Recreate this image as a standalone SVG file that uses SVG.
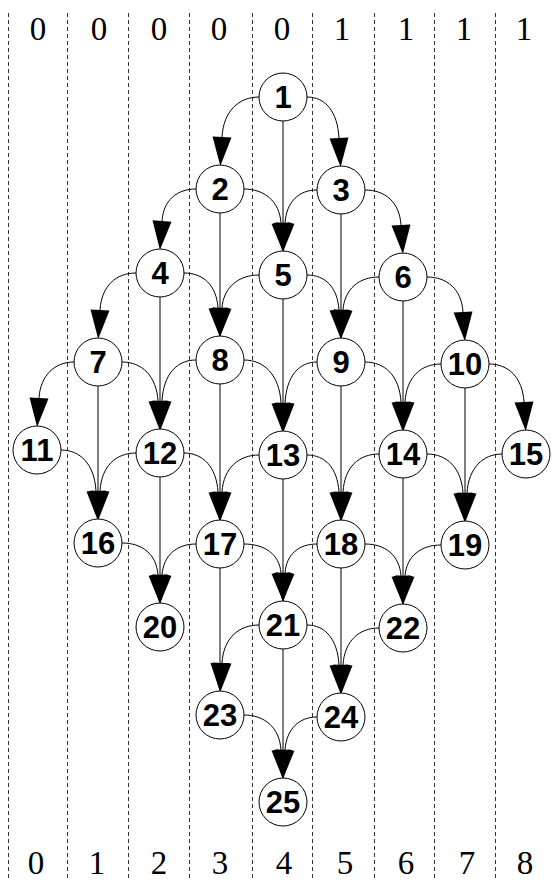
<svg xmlns="http://www.w3.org/2000/svg" width="553" height="881" viewBox="0 0 553 881">
<style>
.grid{stroke:#333;stroke-width:1;stroke-dasharray:4 3;fill:none}
.hdr{font-family:"Liberation Serif","Times New Roman",serif;font-size:33px;fill:#000;text-anchor:middle}
.e{fill:none;stroke:#000;stroke-width:1;marker-end:url(#ah)}
.n circle{fill:#fff;stroke:#000;stroke-width:1}
.n text{font-family:"Liberation Sans",Arial,sans-serif;font-weight:bold;font-size:31px;fill:#000;text-anchor:middle}
</style>
<defs>
<marker id="ah" markerUnits="userSpaceOnUse" markerWidth="30" markerHeight="20" viewBox="0 -10 30 20" refX="0" refY="0" orient="auto" overflow="visible">
<path d="M0,-9.5 L29,0 L0,9.5 Z" fill="#000"/>
</marker>
</defs>
<rect width="553" height="881" fill="#fff"/>
<g id="grid">
<line class="grid" x1="8.5" y1="13" x2="8.5" y2="881"/>
<line class="grid" x1="67.5" y1="13" x2="67.5" y2="881"/>
<line class="grid" x1="128.5" y1="13" x2="128.5" y2="881"/>
<line class="grid" x1="189.5" y1="13" x2="189.5" y2="881"/>
<line class="grid" x1="252.5" y1="13" x2="252.5" y2="881"/>
<line class="grid" x1="312.5" y1="13" x2="312.5" y2="881"/>
<line class="grid" x1="374.5" y1="13" x2="374.5" y2="881"/>
<line class="grid" x1="434.5" y1="13" x2="434.5" y2="881"/>
<line class="grid" x1="495.5" y1="13" x2="495.5" y2="881"/>
</g>
<g id="top-labels">
<text class="hdr" x="38" y="40">0</text>
<text class="hdr" x="99" y="40">0</text>
<text class="hdr" x="159" y="40">0</text>
<text class="hdr" x="219" y="40">0</text>
<text class="hdr" x="282" y="40">0</text>
<text class="hdr" x="342" y="40">1</text>
<text class="hdr" x="406" y="40">1</text>
<text class="hdr" x="464" y="40">1</text>
<text class="hdr" x="524" y="40">1</text>
</g>
<g id="bottom-labels">
<text class="hdr" x="36" y="874">0</text>
<text class="hdr" x="97" y="874">1</text>
<text class="hdr" x="159" y="874">2</text>
<text class="hdr" x="220" y="874">3</text>
<text class="hdr" x="284" y="874">4</text>
<text class="hdr" x="345" y="874">5</text>
<text class="hdr" x="406" y="874">6</text>
<text class="hdr" x="467" y="874">7</text>
<text class="hdr" x="525" y="874">8</text>
</g>
<g id="connectors">
<path class="e" d="M259,97 C239,97 223.5,111 222,137"/>
<path class="e" d="M307,97 C325,97 337.5,111 339,138"/>
<path class="e" d="M196,189 C177,189 163.5,200 162,221"/>
<path class="e" d="M244,189 C264,189 279.5,201 281,223"/>
<path class="e" d="M317,190 C299,190 286.5,201.5 285,223"/>
<path class="e" d="M365,190 C385,190 399.5,202 401,225"/>
<path class="e" d="M136,273 C116,273 101.5,286 100,310"/>
<path class="e" d="M184,273 C203,273 216.5,285 218,308"/>
<path class="e" d="M259,275 C239,275 223.5,287 222,308"/>
<path class="e" d="M307,275 C325,275 337.5,287 339,310"/>
<path class="e" d="M379,277 C359,277 344.5,289 343,310"/>
<path class="e" d="M427,277 C447,277 461.5,289 463,312"/>
<path class="e" d="M74,362 C55,362 40.5,375 39,398"/>
<path class="e" d="M122,362 C142,362 156.5,376 158,401"/>
<path class="e" d="M196,360 C177,360 163.5,374 162,401"/>
<path class="e" d="M244,360 C264,360 279.5,375 281,403"/>
<path class="e" d="M317,362 C299,362 286.5,376 285,403"/>
<path class="e" d="M365,362 C385,362 399.5,376 401,402"/>
<path class="e" d="M441,364 C421,364 406.5,377 405,402"/>
<path class="e" d="M489,364 C508,364 522.5,377 524,402"/>
<path class="e" d="M61,450 C80,450 94.5,464 96,491"/>
<path class="e" d="M136,453 C116,453 101.5,466 100,491"/>
<path class="e" d="M184,453 C203,453 216.5,467 218,492"/>
<path class="e" d="M259,455 C239,455 223.5,468 222,492"/>
<path class="e" d="M307,455 C325,455 337.5,468 339,492"/>
<path class="e" d="M379,454 C359,454 344.5,467 343,492"/>
<path class="e" d="M427,454 C447,454 461.5,468 463,493"/>
<path class="e" d="M502,454 C483,454 468.5,468 467,493"/>
<path class="e" d="M122,543 C142,543 156.5,554 158,575"/>
<path class="e" d="M196,544 C177,544 163.5,555 162,575"/>
<path class="e" d="M244,544 C264,544 279.5,554 281,573"/>
<path class="e" d="M317,544 C299,544 286.5,554 285,573"/>
<path class="e" d="M365,544 C385,544 399.5,555 401,576"/>
<path class="e" d="M441,545 C421,545 406.5,556 405,576"/>
<path class="e" d="M259,625 C239,625 223.5,638 222,663"/>
<path class="e" d="M307,625 C325,625 337.5,639 339,665"/>
<path class="e" d="M379,628 C359,628 344.5,641 343,665"/>
<path class="e" d="M244,715 C264,715 279.5,727 281,750"/>
<path class="e" d="M317,717 C299,717 286.5,729 285,750"/>
<path class="e" d="M283,121 V223"/>
<path class="e" d="M220,213 V308"/>
<path class="e" d="M341,214 V310"/>
<path class="e" d="M160,297 V401"/>
<path class="e" d="M283,299 V403"/>
<path class="e" d="M403,301 V402"/>
<path class="e" d="M98,386 V491"/>
<path class="e" d="M220,384 V492"/>
<path class="e" d="M341,386 V492"/>
<path class="e" d="M465,388 V493"/>
<path class="e" d="M160,477 V575"/>
<path class="e" d="M283,479 V573"/>
<path class="e" d="M403,478 V576"/>
<path class="e" d="M220,568 V663"/>
<path class="e" d="M341,568 V665"/>
<path class="e" d="M283,649 V750"/>
</g>
<g id="n1" class="n"><circle cx="283" cy="97" r="24"/><text x="283" y="108">1</text></g>
<g id="n2" class="n"><circle cx="220" cy="189" r="24"/><text x="220" y="200">2</text></g>
<g id="n3" class="n"><circle cx="341" cy="190" r="24"/><text x="341" y="201">3</text></g>
<g id="n4" class="n"><circle cx="160" cy="273" r="24"/><text x="160" y="284">4</text></g>
<g id="n5" class="n"><circle cx="283" cy="275" r="24"/><text x="283" y="286">5</text></g>
<g id="n6" class="n"><circle cx="403" cy="277" r="24"/><text x="403" y="288">6</text></g>
<g id="n7" class="n"><circle cx="98" cy="362" r="24"/><text x="98" y="373">7</text></g>
<g id="n8" class="n"><circle cx="220" cy="360" r="24"/><text x="220" y="371">8</text></g>
<g id="n9" class="n"><circle cx="341" cy="362" r="24"/><text x="341" y="373">9</text></g>
<g id="n10" class="n"><circle cx="465" cy="364" r="24"/><text x="465" y="375">10</text></g>
<g id="n11" class="n"><circle cx="37" cy="450" r="24"/><text x="37" y="461">11</text></g>
<g id="n12" class="n"><circle cx="160" cy="453" r="24"/><text x="160" y="464">12</text></g>
<g id="n13" class="n"><circle cx="283" cy="455" r="24"/><text x="283" y="466">13</text></g>
<g id="n14" class="n"><circle cx="403" cy="454" r="24"/><text x="403" y="465">14</text></g>
<g id="n15" class="n"><circle cx="526" cy="454" r="24"/><text x="526" y="465">15</text></g>
<g id="n16" class="n"><circle cx="98" cy="543" r="24"/><text x="98" y="554">16</text></g>
<g id="n17" class="n"><circle cx="220" cy="544" r="24"/><text x="220" y="555">17</text></g>
<g id="n18" class="n"><circle cx="341" cy="544" r="24"/><text x="341" y="555">18</text></g>
<g id="n19" class="n"><circle cx="465" cy="545" r="24"/><text x="465" y="556">19</text></g>
<g id="n20" class="n"><circle cx="160" cy="627" r="24"/><text x="160" y="638">20</text></g>
<g id="n21" class="n"><circle cx="283" cy="625" r="24"/><text x="283" y="636">21</text></g>
<g id="n22" class="n"><circle cx="403" cy="628" r="24"/><text x="403" y="639">22</text></g>
<g id="n23" class="n"><circle cx="220" cy="715" r="24"/><text x="220" y="726">23</text></g>
<g id="n24" class="n"><circle cx="341" cy="717" r="24"/><text x="341" y="728">24</text></g>
<g id="n25" class="n"><circle cx="283" cy="802" r="24"/><text x="283" y="813">25</text></g>
</svg>
